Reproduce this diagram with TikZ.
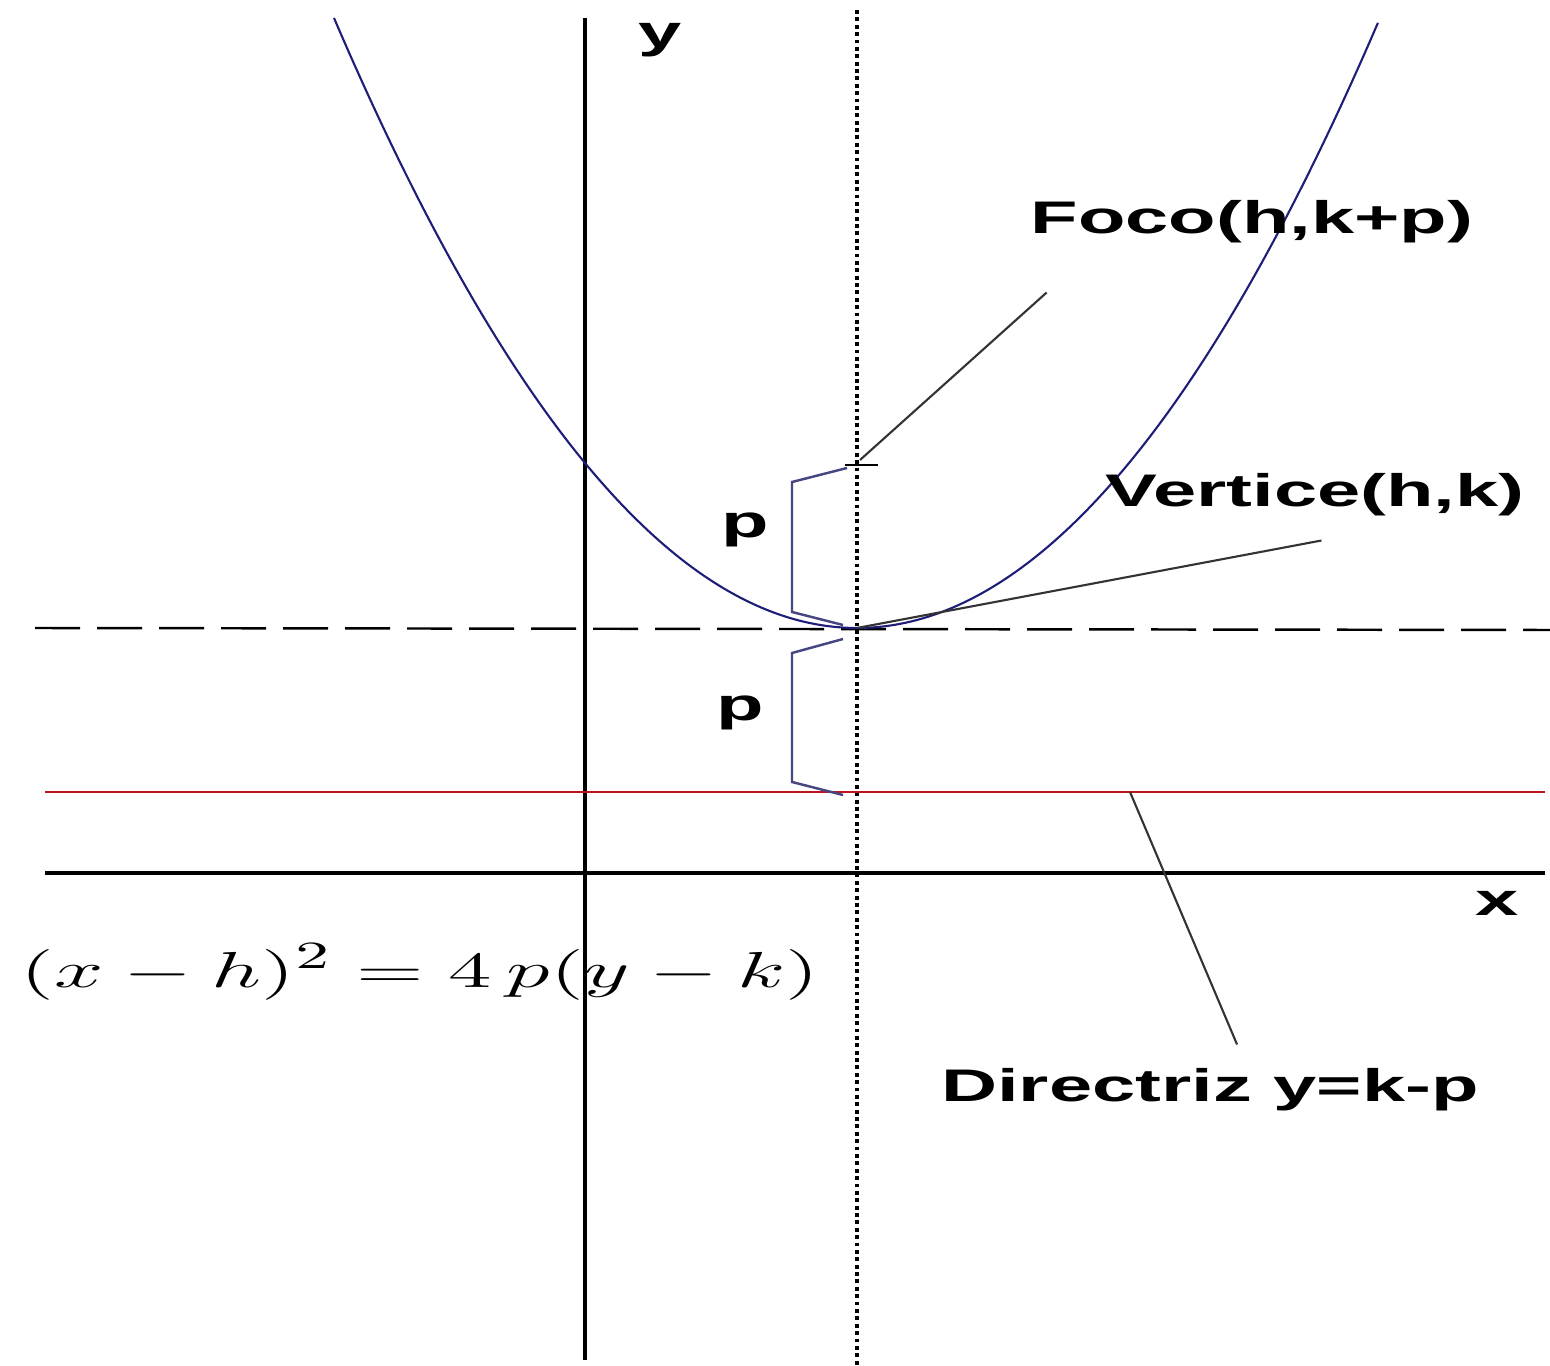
\documentclass[tikz,border=0pt]{standalone}
\usepackage{fontspec}
\usepackage{graphicx}
\usepackage{tikz}
\usetikzlibrary{positioning, calc}
\newfontfamily\labfont{Liberation Sans}[FakeStretch=1.7]
\definecolor{parcol}{RGB}{30,30,120}
\definecolor{brkcol}{RGB}{70,70,130}
\definecolor{dircol}{RGB}{190,20,30}
\tikzset{
  axis/.style={draw=black, line width=0.9pt},
  curve/.style={draw=parcol, line width=0.6pt},
  symline/.style={draw=black, densely dotted, line width=1.1pt},
  vertline/.style={draw=black, dash pattern=on 4.5mm off 1.7mm, line width=0.7pt},
  dirline/.style={draw=dircol, line width=0.6pt},
  bracket/.style={draw=brkcol, line width=0.7pt},
  leader/.style={draw=black!80, line width=0.6pt},
  lab/.style={font=\labfont\bfseries\fontsize{13}{15}\selectfont, inner sep=1pt},
}
\begin{document}
\begin{tikzpicture}
  \useasboundingbox (0,0) rectangle (15.5,-13.66);

  \coordinate (V) at (8.57,-6.28);
  \coordinate (F) at (8.57,-4.65);
  \coordinate (D) at (11.3,-7.92);

  \draw[axis] (5.85,-0.18) -- (5.85,-13.6);
  \draw[axis] (0.45,-8.73) -- (15.45,-8.73);
  \draw[symline] (8.57,-0.1) -- (8.57,-13.66);
  \draw[vertline] (0.35,-6.28) -- (15.5,-6.30);
  \draw[dirline] (0.45,-7.92) -- (15.45,-7.92);
  \draw[curve] plot[domain=3.34:13.78, samples=120, smooth] (\x,{-6.28+0.223*(\x-8.57)^2});

  \draw[bracket] (8.47,-4.68) -- (7.92,-4.82) -- (7.92,-6.12) -- (8.43,-6.25);
  \draw[bracket] (8.43,-6.39) -- (7.92,-6.53) -- (7.92,-7.82) -- (8.43,-7.95);
  \draw[black, line width=0.6pt] ($(F)+(-0.12,0)$) -- ($(F)+(0.21,0)$);

  \node[lab] (p1) at (7.45,-5.3) {p};
  \node[lab] (p2) at (7.4,-7.13) {p};
  \node[lab] (ylab) at (6.6,-0.4) {y};
  \node[lab] (xlab) at (14.97,-9.03) {x};

  \node[lab] (foco) at (12.52,-2.22) {Foco(h,k+p)};
  \node[lab] (vert) at (13.15,-4.95) {Vertice(h,k)};
  \node[lab] (dirz) at (12.1,-10.9) {Directriz y=k-p};
  \node (eqn) at (4.2,-9.72) {\scalebox{1.75}[1]{\fontsize{15}{18}\selectfont $(x-h)^2=4\,p(y-k)$}};

  \coordinate (fl) at ($(foco.south west)+(0.2,-0.45)$);
  \coordinate (vl) at ($(vert.south west)+(2.2,-0.2)$);
  \coordinate (dl) at ($(dirz.north west)+(3.0,0.2)$);
  \draw[leader] (fl) -- ($(F)+(0.03,0.05)$);
  \draw[leader] (vl) -- (V);
  \draw[leader] (D) -- (dl);
\end{tikzpicture}
\end{document}
